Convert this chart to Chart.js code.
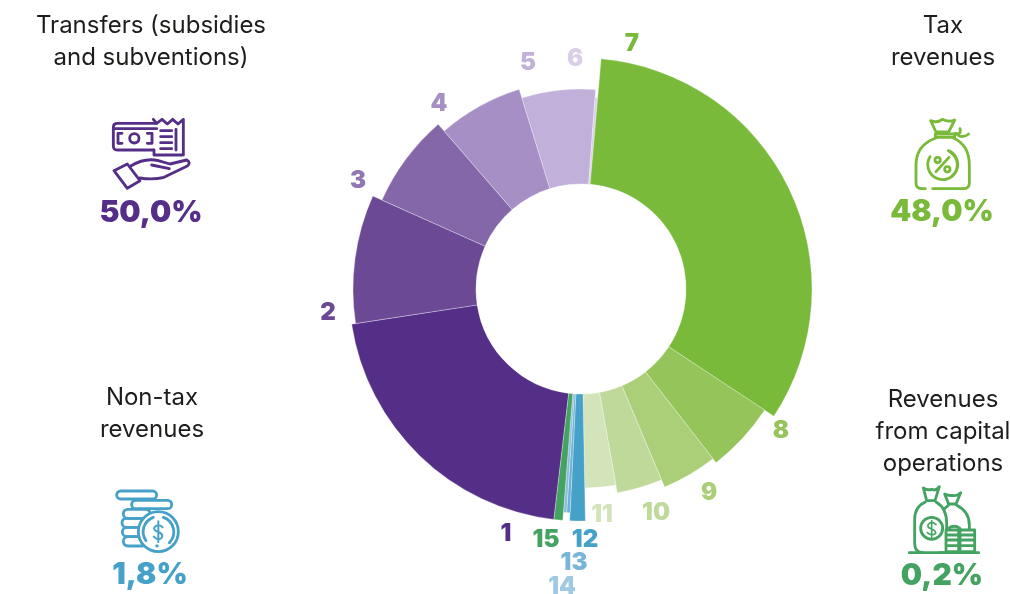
<!DOCTYPE html>
<html><head><meta charset="utf-8">
<script src="https://cdn.jsdelivr.net/npm/chart.js@4"></script>
<style>
html,body{margin:0;padding:0;background:#fff;width:1010px;height:594px;overflow:hidden}
#w{position:relative;width:1010px;height:594px}
canvas{position:absolute;left:0;top:0}
svg{position:absolute;fill:none;stroke-width:8.5;stroke-linecap:round;stroke-linejoin:round}
</style></head><body>
<div id="w"><canvas id="c" width="1010" height="594"></canvas>

<svg style="left:90px;top:100px;stroke:#542e87" width="130" height="130" viewBox="0 0 390 390">
<path d="M200 70H82q-12 0-12 12v56q0 12 12 12h108"/><path d="M72 86H200"/>
<path d="M96 100H84V130H96M172 100h14v30h-14"/><circle cx="133" cy="115" r="14"/>
<path d="M192 150V165H280V58L264 72 248 58 232 72 216 58 200 70 190 58"/>
<path d="M212 92H245M212 110H245M212 128H245M212 146H245M258 88V150" />
<path d="M72 212L112 192 150 242 112 265Z"/>
<path d="M122 198Q165 172 205 182L240 192 290 180Q304 188 292 198L222 232Q190 240 150 234"/><path d="M185 195L238 206"/>
</svg>

<svg style="left:880px;top:100px;stroke:#7aba3a" width="130" height="130" viewBox="0 0 390 390">
<path d="M152 62Q172 70 187 58 205 68 224 60L206 96H168Z"/><path d="M166 102H224V112H166Z"/>
<path d="M226 100Q245 105 240 86M232 104Q248 116 266 102"/>
<path d="M168 114Q108 135 108 195V248Q108 266 126 266H136M158 266H250Q268 266 268 248V195Q268 135 220 114"/>
<path d="M205 152A45 45 0 1 1 150 170M205 152Q232 170 232 193 232 216 214 230"/>
<circle cx="173" cy="180" r="8"/><circle cx="202" cy="208" r="8"/><path d="M207 172L168 215"/>
</svg>

<svg style="left:90px;top:480px;stroke:#46a1c9" width="130" height="114" viewBox="0 0 390 342">
<rect x="80" y="33" width="120" height="24" rx="12"/><rect x="125" y="61" width="120" height="25" rx="12"/>
<rect x="100" y="88" width="80" height="27" rx="13"/><rect x="96" y="115" width="70" height="27" rx="13"/>
<rect x="97" y="142" width="70" height="28" rx="14"/><rect x="100" y="170" width="70" height="28" rx="14"/>
<circle cx="205" cy="155" r="60" fill="#fff"/>
<path d="M168 182A46 46 0 0 1 190 112M220 112A46 46 0 0 1 238 188M200 198H202"/>
<path d="M218 142Q205 128 193 142 190 152 205 156 220 162 216 172 205 184 191 170M205 124V186" stroke-width="6"/>
</svg>

<svg style="left:880px;top:480px;stroke:#45a362" width="130" height="114" viewBox="0 0 390 342">
<path d="M88 218H296"/>
<path d="M130 24Q142 32 155 28 168 34 178 20L165 62H140Z"/>
<path d="M136 66Q104 80 104 118V190M104 190Q104 218 128 218M168 66Q200 84 200 130V148M178 218H192"/>
<circle cx="155" cy="145" r="33"/>
<path d="M168 134Q155 120 144 134 142 144 155 147 168 152 167 160 155 170 142 158M155 122V172" stroke-width="5"/>
<path d="M194 42Q208 48 218 46 230 50 242 38L228 72H206Z"/>
<path d="M205 76Q200 80 195 85M230 76Q268 95 268 135V145"/>
<path d="M205 145A30 30 0 0 1 240 145"/>
<path d="M198 150H236V215H198ZM198 165H236M198 180H236M198 197H236M240 150H284V215H240ZM240 165H284M240 180H284M240 197H284"/>
</svg>
</div>
<script>
const sliceLabels = ['1','2','3','4','5','6','7','8','9','10','11','12','13','14','15'];
const shareValues = [20.7,9.1,6.94,6.58,5.94,0.22,32.86,5.2,4.16,3.55,2.5,1.08,0.24,0.23,0.61];
const sliceRadii  = [232,228,218,209,200,192,231,220,215,207,199,232,224,224,232];
const sliceColors = ['#542e87','#6b4995','#8467a8','#a58fc4','#c1b1da','#d9d0e8','#7aba3a','#95c45a','#abcf78','#bfd99b','#d3e4bb','#46a1c9','#6aafd5','#8cbcdc','#45a362'];
const labelColors = ['#542e87','#6b4995','#9275b3','#a58fc4','#c1b1da','#d9d0e8','#7aba3a','#95c45a','#abcf78','#bfd99b','#d3e4bb','#46a1c9','#78b5d8','#a0c9e3','#45a362'];
const groupTitles = [['Transfers (subsidies','and subventions)'],['Tax','revenues'],['Non-tax','revenues'],['Revenues','from capital','operations']];
const groupShares = ['50,0%','48,0%','1,8%','0,2%'];
const groupColors = ['#542e87','#7aba3a','#46a1c9','#45a362'];

const labelAnchors = [[506,534],[328,313],[358,181],[439,104],[528,63],[575,59],[632,44],[781,431],[709,493],[656,513],[602,515],[585,540],[574,563],[562,587],[546,540]];
const titleAnchors = [[151,26],[943,26],[152,398],[943,400]];
const shareAnchors = [[151,213],[942,212],[150,575],[942,576]];
const FONT = 'Inter, sans-serif';

const radiiPlugin = { id:'radii',
  afterDatasetsUpdate(chart){
    chart.getDatasetMeta(0).data.forEach((arc,i)=>{ arc.outerRadius = sliceRadii[i]; });
  },
  afterDraw(chart){
    const g = chart.ctx; g.save();
    g.textAlign='center'; g.textBaseline='middle';
    g.font = '900 24px '+FONT;
    sliceLabels.forEach((t,i)=>{ g.fillStyle=labelColors[i]; g.fillText(t,labelAnchors[i][0],labelAnchors[i][1]); });
    g.fillStyle='#1d1d1b'; g.font='400 24px '+FONT;
    groupTitles.forEach((ls,i)=>ls.forEach((t,j)=>g.fillText(t,titleAnchors[i][0],titleAnchors[i][1]+j*32)));
    g.font='900 30px '+FONT;
    groupShares.forEach((t,i)=>{ g.fillStyle=groupColors[i]; g.fillText(t,shareAnchors[i][0],shareAnchors[i][1]); });
    g.restore();
  }
};
new Chart(document.getElementById('c'),{
  type:'doughnut',
  data:{labels:sliceLabels,datasets:[{data:shareValues,backgroundColor:sliceColors,borderColor:'rgba(255,255,255,0.6)',borderWidth:0.5}]},
  options:{responsive:false,animation:false,rotation:186.7,radius:232,cutout:'45.3%',
    layout:{padding:{left:152,bottom:16,top:0,right:0}},
    plugins:{legend:{display:false},tooltip:{enabled:false}},events:[]},
  plugins:[radiiPlugin]
});
</script>
</body></html>
